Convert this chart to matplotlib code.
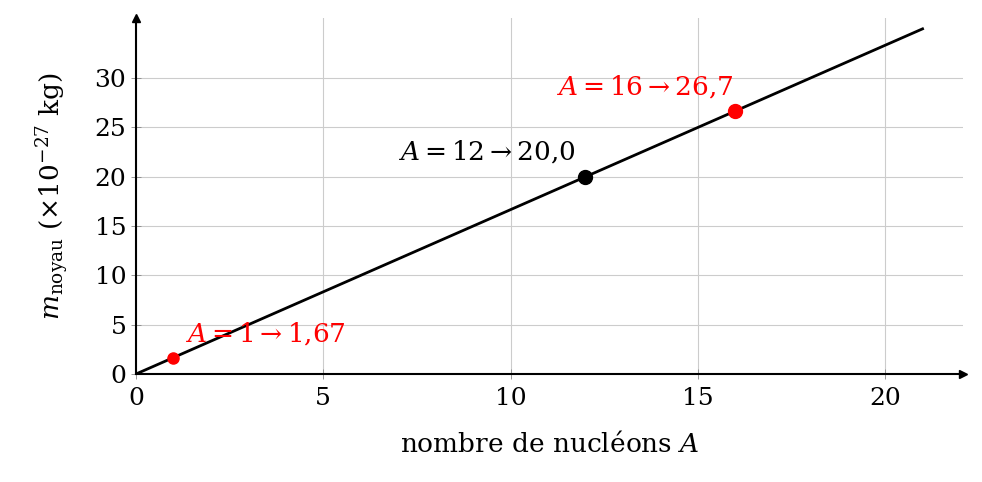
import numpy as np
import matplotlib
matplotlib.use('Agg')
import matplotlib.pyplot as plt

# nuclear mass ~ A * 1.67e-27 kg
A_line = [0, 21]
m_line = [0, 35.0]
A_pts = [1, 12, 16]
m_pts = [1.67, 20.0, 26.7]
pt_colors = ['red', 'black', 'red']
pt_sizes = [8, 10, 10]
labels = [r'$A = 1 \rightarrow 1{,}67$', r'$A = 12 \rightarrow 20{,}0$', r'$A = 16 \rightarrow 26{,}7$']
xticks = [0, 5, 10, 15, 20]
yticks = [0, 5, 10, 15, 20, 25, 30]

plt.rcParams['font.family'] = 'DejaVu Serif'
plt.rcParams['mathtext.fontset'] = 'dejavuserif'
fs = 18
fs_lab = 19

fig = plt.figure(figsize=(9.82, 4.82), dpi=100)
ax = fig.add_axes([136/982, 108/482, 827/982, 356/482])
ax.set_xlim(0, 22.08)
ax.set_ylim(0, 36.1)

ax.plot(A_line, m_line, color='black', lw=2, zorder=3)
for a, m, c, s in zip(A_pts, m_pts, pt_colors, pt_sizes):
    ax.plot(a, m, 'o', color=c, ms=s, zorder=4)

ax.text(1.3, 4.15, labels[0], color='red', fontsize=fs_lab, ha='left', va='center')
ax.text(11.75, 22.6, labels[1], color='black', fontsize=fs_lab, ha='right', va='center')
ax.text(15.95, 29.2, labels[2], color='red', fontsize=fs_lab, ha='right', va='center')

ax.set_xticks(xticks)
ax.set_yticks(yticks)
ax.tick_params(labelsize=fs, direction='inout', length=7, width=0.6, color='#888888')
ax.tick_params(axis='x', pad=6)
ax.grid(True, color='#cccccc', lw=0.8)
ax.set_axisbelow(True)
for s in ['top', 'right']:
    ax.spines[s].set_visible(False)
for s in ['left', 'bottom']:
    ax.spines[s].set_linewidth(1.5)
ax.plot(1, 0, '>', color='black', ms=6, transform=ax.transAxes, clip_on=False)
ax.plot(0, 1, '^', color='black', ms=6, transform=ax.transAxes, clip_on=False)

ax.set_xlabel(r'nombre de nucléons $A$', fontsize=fs_lab, labelpad=15)
ax.set_ylabel(r'$m_{\mathrm{noyau}}$ ($\times 10^{-27}$ kg)', fontsize=fs_lab, labelpad=16)

fig.savefig('out.png', dpi=100)
